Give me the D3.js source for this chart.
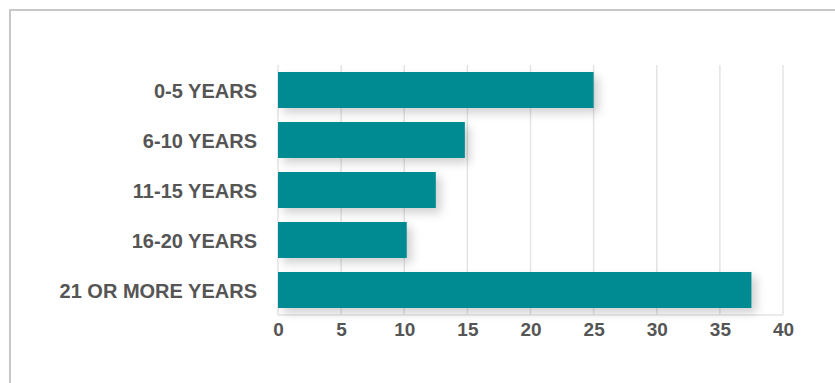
<!DOCTYPE html>
<html>
<head>
<meta charset="utf-8">
<script src="https://cdn.jsdelivr.net/npm/d3@7"></script>
<style>
  body { margin: 0; background: #fff; }
  text { font-family: "Liberation Sans", Arial, Helvetica, sans-serif; font-weight: bold; fill: #555; }
</style>
</head>
<body>
<div class="container"></div>
<script>
const w = 835;
const h = 383;
const pad = {top: 65, right: 52, bottom: 68, left: 278};

// data
const categories = ['0-5 YEARS', '6-10 YEARS', '11-15 YEARS', '16-20 YEARS', '21 OR MORE YEARS'];
const values = [25, 14.8, 12.5, 10.2, 37.5];
const xTicks = [0, 5, 10, 15, 20, 25, 30, 35, 40];

const svg = d3.select('.container')
              .append('svg')
              .attr('width', w)
              .attr('height', h);

// drop shadow for bars
const defs = svg.append('defs');
defs.append('filter')
    .attr('id', 'shadow')
    .attr('x', '-10%').attr('y', '-30%')
    .attr('width', '130%').attr('height', '190%')
  .append('feDropShadow')
    .attr('dx', 5).attr('dy', 5)
    .attr('stdDeviation', 5)
    .attr('flood-color', '#000')
    .attr('flood-opacity', 0.18);

// frame (top + left only)
svg.append('path')
   .attr('d', `M10,${h} V10 H${w}`)
   .attr('fill', 'none')
   .attr('stroke', '#c8c8c8')
   .attr('stroke-width', 2);

const xScale = d3.scaleLinear()
                 .domain([0, 40])
                 .range([pad.left, w - pad.right]);

const yScale = d3.scaleBand()
                 .domain(categories)
                 .range([pad.top, h - pad.bottom])
                 .paddingInner(0.28)
                 .paddingOuter(0.14);

// vertical grid lines
svg.append('g')
   .selectAll('line')
   .data(xTicks)
   .enter()
   .append('line')
   .attr('x1', d => xScale(d))
   .attr('x2', d => xScale(d))
   .attr('y1', pad.top)
   .attr('y2', h - pad.bottom)
   .attr('stroke', '#e4e4e4')
   .attr('stroke-width', 1.5);

// bottom line
svg.append('line')
   .attr('x1', xScale(0))
   .attr('x2', xScale(40))
   .attr('y1', h - pad.bottom)
   .attr('y2', h - pad.bottom)
   .attr('stroke', '#e4e4e4')
   .attr('stroke-width', 1.5);

// bars
svg.append('g')
   .selectAll('rect')
   .data(values)
   .enter()
   .append('rect')
   .attr('x', xScale(0))
   .attr('y', (d, i) => yScale(categories[i]))
   .attr('width', d => xScale(d) - xScale(0))
   .attr('height', yScale.bandwidth())
   .attr('fill', '#008b92')
   .attr('filter', 'url(#shadow)');

// x axis labels
const xAxis = d3.axisBottom(xScale).tickValues(xTicks).tickSize(0).tickPadding(8);
const gx = svg.append('g')
              .attr('transform', `translate(0, ${h - pad.bottom})`)
              .call(xAxis);
gx.select('.domain').remove();
gx.selectAll('text')
  .style('font-size', '19px')
  .attr('fill', '#555')
  .attr('font-family', null);

// y axis labels
const yAxis = d3.axisLeft(yScale).tickSize(0).tickPadding(21);
const gy = svg.append('g')
              .attr('transform', `translate(${pad.left}, 0)`)
              .call(yAxis);
gy.select('.domain').remove();
gy.selectAll('text')
  .style('font-size', '20px')
  .attr('fill', '#555')
  .attr('font-family', null)
  .attr('dy', '0.38em');
</script>
</body>
</html>
